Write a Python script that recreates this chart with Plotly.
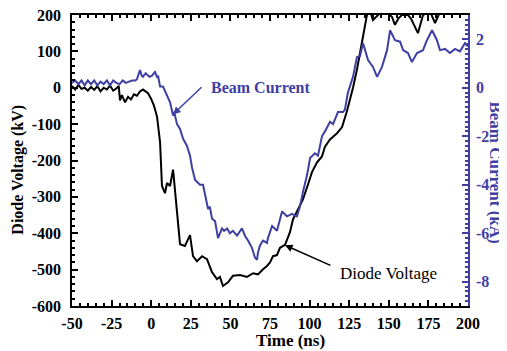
import plotly.graph_objects as go

# Diode voltage (kV) vs time (ns)
time_v = [-50, -48, -46, -44, -42, -40, -38, -36, -34, -32, -30, -28, -26, -24, -22, -20.5,
          -19.7, -18.5, -16.5, -14.6, -12.8, -10.9, -9, -7.1, -5.2, -3.3, -2, -0.1, 1.8, 3.7,
          5.6, 6.8, 8.7, 10, 11.9, 13.8, 16.3, 18.2, 21.3, 24.5, 26.4, 28.9, 32.1, 35.2, 38.4,
          41.5, 43.4, 45.3, 48.5, 51.6, 56.1, 60.5, 64.3, 67.4, 70.6, 73.1, 75, 76.9, 79.4,
          81.3, 84.5, 87.6, 89.5, 92.7, 95.8, 99, 101.5, 104.7, 107.8, 109.7, 112.9, 117.3,
          120.5, 123.6, 125.5, 127.4, 129.9, 131.8, 134, 136.2, 138, 140, 143.2, 146.3, 149,
          152, 153.9, 156, 158.3, 162.1, 164, 166.5, 168.4, 171.6, 176, 179.2, 181.1, 183,
          190, 200]
voltage = [5, -5, 8, -3, 0, -8, 2, -6, 4, -10, 0, -5, 6, -8, -2, 5,
           -35, -20, -40, -25, -32, -18, -22, -10, -5, -12, -15, -30, -50, -80,
           -150, -270, -290, -262, -270, -225, -353, -430, -435, -405, -463, -477, -463, -471, -507,
           -526, -520, -545, -535, -517, -515, -520, -510, -513, -499, -490, -480, -463, -460,
           -440, -432, -397, -362, -334, -307, -266, -232, -205, -189, -162, -142, -125,
           -108, -64, -33, 0, 50, 95, 150, 200, 215, 186, 200, 215, 205,
           195, 173, 190, 200, 200, 190, 167, 150, 200, 210, 178, 195, 215,
           230, 225]

# Beam current (kA) vs time (ns)
time_i = [-50, -48, -46, -44, -42, -40, -38, -36, -34, -32, -30, -28, -26, -24, -22, -20,
          -18, -16, -14, -12, -10, -9, -7.1, -6, -5.2, -3.5, -2.7, -1, 0.5, 2.4, 3.7, 4.3,
          5.6, 7.4, 8.5, 10, 11.9, 13.8, 14.5, 16.3, 18.2, 20.1, 22.6, 24.5, 25.8, 27.7,
          30.8, 32.7, 34, 35.9, 37, 38.4, 40.3, 42.2, 44.7, 46, 47.9, 49.7, 51.6, 54.2,
          57.3, 59.2, 61.1, 63.6, 65.5, 66.8, 67.4, 68.7, 70.6, 73.1, 73.7, 76.3, 79.4,
          82.6, 85.7, 88.9, 92, 93.9, 95.8, 98.4, 100.3, 103.4, 105.3, 107.8, 109.7, 112.9,
          114.8, 116, 117.9, 121.1, 122.3, 124.2, 127.4, 129.9, 131.8, 133.7, 136.9, 140,
          142.6, 145.7, 148.9, 150.8, 153.9, 157.1, 159, 162.1, 164.6, 167.8, 171.6, 174.1,
          177.3, 180.4, 182.3, 185.5, 188.6, 191.8, 194.9, 198.1, 200]
current = [0.2, 0.3, 0.15, 0.3, 0.1, 0.3, 0.15, 0.3, 0.1, 0.25, 0.15, 0.3, 0.1, 0.3, 0.2, 0.15,
           0.3, 0.2, 0.25, 0.3, 0.3, 0.35, 0.73, 0.5, 0.45, 0.6, 0.55, 0.45, 0.5, 0.65, 0.45, 0.5,
           0.05, 0.05, -0.1, -0.3, -0.6, -1.15, -1.0, -1.5, -1.7, -2.1, -2.4, -2.8, -3.3, -3.8,
           -4.0, -4.0, -4.4, -5.0, -4.9, -5.4, -5.5, -6.2, -5.8, -5.9, -5.8, -6.0, -5.9, -6.1,
           -5.8, -6.1, -6.3, -6.6, -7.0, -7.1, -6.8, -6.5, -6.3, -6.4, -6.2, -5.7, -5.9,
           -5.1, -5.3, -5.2, -5.3, -4.9, -4.3, -3.6, -2.9, -2.7, -2.8, -2.0, -1.8, -1.4,
           -1.5, -1.3, -1.0, -1.0, -0.9, -0.2, 0.45, 1.27, 1.3, 1.84, 1.14, 0.86,
           0.45, 0.86, 1.55, 2.37, 1.96, 1.9, 1.55, 1.43, 1.06, 1.43, 1.55, 1.96,
           2.37, 1.96, 1.55, 1.6, 1.43, 1.6, 1.5, 1.84, 1.7]

x_ticks = [-50, -25, 0, 25, 50, 75, 100, 125, 150, 175, 200]
x_labels = ["-50", "-25", "0", "25", "50", "75", "100", "125", "150", "175", "200"]
y_ticks = [-600, -500, -400, -300, -200, -100, 0, 100, 200]
y_labels = ["-600", "-500", "-400", "-300", "-200", "-100", "0", "100", "200"]
y2_ticks = [-8, -6, -4, -2, 0, 2]
y2_labels = ["-8", "-6", "-4", "-2", "0", "2"]

BLUE = "#3f3fa3"
SERIF = "Liberation Serif"
tick_font = dict(family=SERIF, size=16, color="black", weight="bold")

fig = go.Figure()
fig.add_trace(go.Scatter(x=time_v, y=voltage, mode="lines", name="Diode Voltage",
                         line=dict(color="black", width=2)))
fig.add_trace(go.Scatter(x=time_i, y=current, mode="lines", name="Beam Current",
                         yaxis="y2", line=dict(color=BLUE, width=2)))

# page body has an 8px margin; figure is sized so the plot area lands where the reference has it
fig.update_layout(
    width=499, height=343,
    margin=dict(l=64, r=39, t=7, b=45),
    paper_bgcolor="white", plot_bgcolor="white",
    showlegend=False,
    xaxis=dict(range=[-50, 200], tickvals=x_ticks, ticktext=x_labels, ticks="inside",
               ticklen=6, tickwidth=1.5, automargin=False, ticklabeloverflow="allow",
               tickcolor="black", showline=True, linecolor="black", linewidth=1.5,
               mirror="ticks", showgrid=False, zeroline=False, tickfont=tick_font,
               ticklabelstandoff=2,
               minor=dict(dtick=5, ticks="inside", ticklen=3, tickcolor="black", showgrid=False)),
    yaxis=dict(range=[-600, 200], tickvals=y_ticks, ticktext=y_labels, ticks="inside",
               ticklen=6, tickwidth=1.5, automargin=False, ticklabeloverflow="allow",
               tickcolor="black", showline=True, linecolor="black", linewidth=1.5,
               showgrid=False, zeroline=False, tickfont=tick_font, ticklabelstandoff=6,
               minor=dict(dtick=20, ticks="inside", ticklen=3, tickcolor="black", showgrid=False)),
    yaxis2=dict(range=[-9, 3], tickvals=y2_ticks, ticktext=y2_labels, overlaying="y",
                side="right", automargin=False, ticklabeloverflow="allow",
                ticks="inside", ticklen=6, tickwidth=1.5, tickcolor=BLUE,
                showline=True, linecolor=BLUE, linewidth=1.5, showgrid=False, zeroline=False,
                tickfont=dict(family=SERIF, size=16, color=BLUE, weight="bold"),
                ticklabelstandoff=3,
                minor=dict(dtick=0.2, ticks="inside", ticklen=3, tickcolor=BLUE, showgrid=False)),
)

annotations = [
    # axis titles
    dict(text="Time (ns)", xref="paper", yref="paper", x=0.553, y=-0.12, showarrow=False,
         font=dict(family=SERIF, size=17, color="black", weight="bold"),
         xanchor="center", yanchor="middle"),
    dict(text="Diode Voltage (kV)", xref="paper", yref="paper", x=-0.135, y=0.467,
         textangle=-90, showarrow=False,
         font=dict(family=SERIF, size=16, color="black", weight="bold"),
         xanchor="center", yanchor="middle"),
    dict(text="Beam Current (kA)", xref="paper", yref="paper", x=1.07, y=0.46,
         textangle=90, showarrow=False,
         font=dict(family=SERIF, size=17, color=BLUE, weight="bold"),
         xanchor="center", yanchor="middle"),
    # series labels
    dict(text="Beam Current", xref="x", yref="y2", x=69.3, y=0.0, showarrow=False,
         font=dict(family=SERIF, size=16, color=BLUE, weight="bold"),
         xanchor="center", yanchor="middle"),
    dict(text="", xref="x", yref="y2", x=13.8, y=-1.1, axref="x", ayref="y2",
         ax=32.7, ay=0.08, showarrow=True, arrowhead=2, arrowsize=1, arrowwidth=1.5,
         arrowcolor=BLUE),
    dict(text="Diode Voltage", xref="x", yref="y", x=150.1, y=-512, showarrow=False,
         font=dict(family=SERIF, size=17, color="black"),
         xanchor="center", yanchor="middle"),
    dict(text="", xref="x", yref="y", x=84.5, y=-433, axref="x", ayref="y",
         ax=114.1, ay=-490, showarrow=True, arrowhead=2, arrowsize=1, arrowwidth=1.5,
         arrowcolor="black"),
]
fig.update_layout(annotations=annotations)

fig.write_html("out.html")
